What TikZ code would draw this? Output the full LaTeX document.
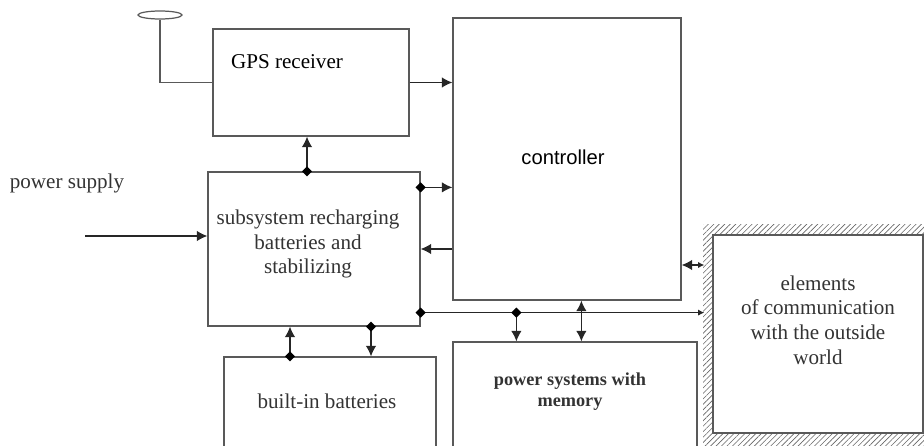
\documentclass[tikz,border=0pt]{standalone}
\usepackage{fontspec}
\setmainfont{Liberation Serif}
\setsansfont{Liberation Sans}
\usetikzlibrary{arrows.meta,fit,calc,shapes.geometric,patterns.meta}

\begin{document}
\begin{tikzpicture}[x=0.02cm, y=-0.02cm,
		box/.style={draw=black!65, line width=0.7pt, inner sep=0pt},
		lbl/.style={align=center, text=black!80, font=\fontsize{12}{14}\selectfont},
		conn/.style={draw=black!85, line width=0.75pt},
		arr/.style={conn, -{Latex[length=6pt,width=6pt]}},
		jn/.style={diamond, fill=black, inner sep=0pt, minimum size=0.21cm}]
	\useasboundingbox (0,0) rectangle (924,446);
	\clip (0,0) rectangle (924,446);

	% blocks
	\node[box, fit={(213,29) (409,136)}] (gps) {};
	\node[box, fit={(453,18) (681,300)}] (ctrl) {};
	\node[box, fit={(208,172) (420,326)}] (sub) {};
	\node[box, fit={(224,357) (436,470)}] (bat) {};
	\node[box, fit={(453,342) (697,470)}] (mem) {};
	\fill[pattern={Lines[angle=45,distance=2.2pt,line width=0.35pt]}, pattern color=black!60]
		(703,225) rectangle (934,446);
	\node[box, fill=white, fit={(713,235) (923,433)}] (comm) {};
	\node[draw=black!65, line width=0.7pt, ellipse, inner sep=0pt,
		minimum width=0.88cm, minimum height=0.16cm] (ant) at (160,15) {};

	% texts
	\node[lbl, text=black] (gpstxt) at (287,62) {GPS receiver};
	\node[lbl, text=black, font=\sffamily\fontsize{11.5}{14}\selectfont] (ctrltxt) at (563,157) {controller};
	\node[lbl] (pstxt) at (67,183) {power supply};
	\node[lbl] (subtxt) at (308,244) {subsystem recharging\\batteries and\\stabilizing};
	\node[lbl] (battxt) at (327,401) {built-in batteries};
	\node[lbl, font=\bfseries\fontsize{10.4}{12}\selectfont] (memtxt) at (570,392) {power systems with\\memory};
	\node[lbl] (commtxt) at (818,320) {elements\\of communication\\with the outside\\world};

	% connectors
	\draw[box] (ant.south) |- (gps.west);
	\draw[arr] (gps.east) -- (gps.east -| ctrl.west);

	\coordinate (s1) at ($(sub.north)+(-7,0)$);
	\draw[arr] (s1) -- (s1 |- gps.south);
	\node[jn] at (s1) {};

	\coordinate (s2) at ($(sub.north east)+(0,16)$);
	\draw[arr] (s2) -- (s2 -| ctrl.west);
	\node[jn] at (s2) {};
	\draw[arr] (sub.east -| ctrl.west) -- (sub.east);

	\coordinate (ps) at (85,236);
	\draw[arr] (ps) -- (ps -| sub.west);

	\coordinate (bus) at ($(sub.south east)+(0,-14)$);
	\draw[conn, -{Latex[length=3.5pt,width=3.5pt]}] (bus) -- ($(bus -| comm.west)+(-8,0)$);
	\node[jn] at (bus) {};

	\coordinate (m1) at ($(mem.north west)+(64,0)$);
	\draw[arr] (bus -| m1) -- (m1);
	\node[jn] at (bus -| m1) {};
	\coordinate (m2) at ($(mem.north west)+(129,0)$);
	\draw[conn, {Latex[length=6pt,width=6pt]}-{Latex[length=6pt,width=6pt]}] (m2 |- ctrl.south) -- (m2);

	\coordinate (c1) at ($(ctrl.east)+(0,106)$);
	\draw[conn, {Latex[length=6pt,width=6pt]}-{Latex[length=3.5pt,width=3.5pt]}] (c1) -- ($(c1 -| comm.west)+(-8,0)$);

	\coordinate (b1) at ($(bat.north)+(-40,0)$);
	\draw[arr] (b1) -- (b1 |- sub.south);
	\node[jn] at (b1) {};
	\coordinate (b2) at ($(bat.north)+(41,0)$);
	\draw[arr] (b2 |- sub.south) -- (b2);
	\node[jn] at (b2 |- sub.south) {};
\end{tikzpicture}
\end{document}
